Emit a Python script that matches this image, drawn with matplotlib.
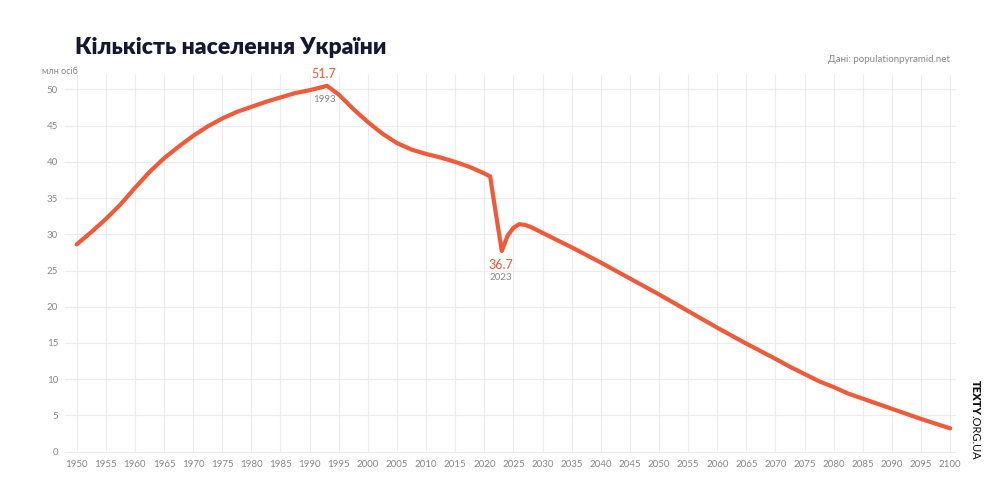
import matplotlib.pyplot as plt

plt.rcParams['font.family'] = ['Lato', 'DejaVu Sans']

# Population of Ukraine, mln
years = [1950, 1952.5, 1955, 1957.5, 1960, 1962.5, 1965, 1967.5, 1970, 1972.5,
         1975, 1977.5, 1980, 1982.5, 1985, 1987.5, 1990, 1993,
         1995, 1997.5, 2000, 2002.5, 2005, 2007.5, 2010, 2012.5, 2015, 2017.5,
         2020, 2021, 2022, 2023, 2024, 2025,
         2026, 2027, 2028, 2030, 2035, 2040, 2045, 2050, 2055, 2060, 2065,
         2070, 2072.5, 2075, 2077.5, 2080, 2082.5, 2085, 2087.5, 2090, 2095, 2100]
population = [28.6, 30.3, 32.1, 34.1, 36.4, 38.6, 40.5, 42.1, 43.6, 44.9,
              46.0, 46.9, 47.6, 48.3, 48.9, 49.5, 49.9, 50.5,
              49.3, 47.3, 45.5, 43.9, 42.6, 41.7, 41.1, 40.6, 40.0, 39.3,
              38.4, 38.0, 32.8, 27.7, 29.8, 30.9,
              31.4, 31.3, 31.0, 30.2, 28.2, 26.1, 23.9, 21.7, 19.4, 17.1, 14.9,
              12.8, 11.7, 10.7, 9.7, 8.9, 8.0, 7.3, 6.6, 5.9, 4.5, 3.2]

x_ticks = list(range(1950, 2101, 5))
y_ticks = list(range(0, 51, 5))

accent = '#f15a38'
grey = '#8a8a8a'

fig = plt.figure(figsize=(10, 5), dpi=100)
ax = fig.add_axes([0.065, 0.094, 0.891, 0.756])

ax.plot(years, population, color=accent, linewidth=3, solid_joinstyle='round',
        solid_capstyle='round', zorder=3)

ax.set_xlim(1948, 2101)
ax.set_ylim(-0.2, 52)
ax.set_xticks(x_ticks)
ax.set_yticks(y_ticks)
ax.tick_params(length=0, labelsize=7, labelcolor=grey, pad=5)
ax.grid(True, color='#ececec', linewidth=0.8)
ax.set_axisbelow(True)
for s in ax.spines.values():
    s.set_visible(False)

# annotations
ax.text(1992.5, 51.3, '51.7', color=accent, fontsize=9, ha='center', va='bottom')
ax.text(1992.5, 49.2, '1993', color=grey, fontsize=7, ha='center', va='top')
ax.text(2022.8, 26.6, '36.7', color=accent, fontsize=9, ha='center', va='top')
ax.text(2022.8, 24.6, '2023', color=grey, fontsize=7, ha='center', va='top')

fig.text(0.075, 0.885, 'Кількість населення України', fontsize=16.5,
         fontweight='heavy', color='#161832', ha='left', va='bottom')
fig.text(0.95, 0.882, 'Дані: populationpyramid.net', fontsize=7, color=grey,
         ha='right', va='center')
fig.text(0.078, 0.856, 'млн осіб', fontsize=6.5, color=grey, ha='right', va='center')

# vertical logo: bold part, then regular part right below it
logo1 = fig.text(0.975, 0.24, 'TEXTY', fontsize=8, fontweight='heavy',
                 color='#111111', rotation=-90, ha='center', va='top')
r = fig.canvas.get_renderer()
bb = logo1.get_window_extent(r).transformed(fig.transFigure.inverted())
fig.text(0.975, bb.y0, '.ORG.UA', fontsize=8, color='#111111',
         rotation=-90, ha='center', va='top')

fig.savefig('out.png', dpi=100, facecolor='white')
